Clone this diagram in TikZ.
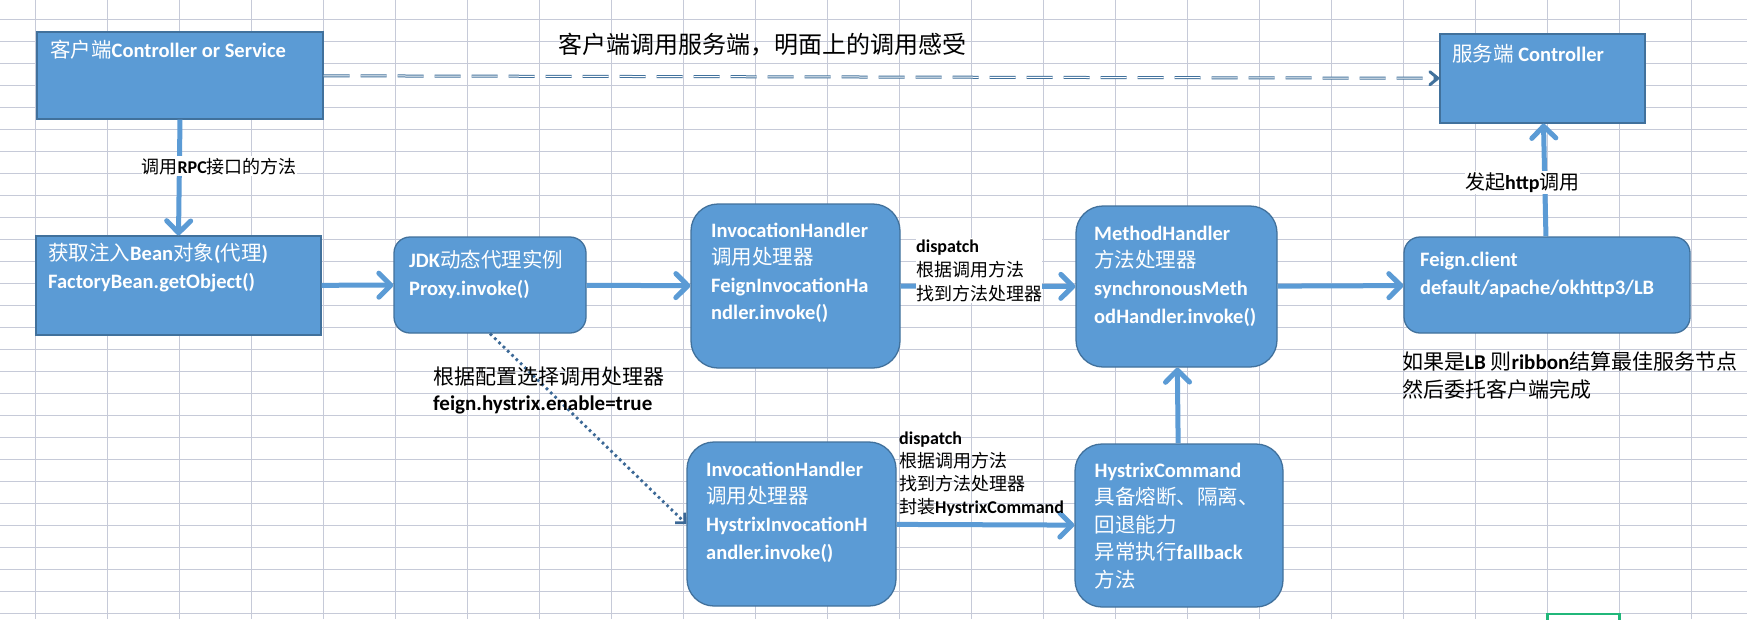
\documentclass[tikz,border=0pt]{standalone}
\usepackage{fontspec}
\setmainfont{Carlito}
\newfontfamily\cjk{Noto Sans CJK SC}
\usepackage{tikz}
\usetikzlibrary{arrows.meta,positioning}

\definecolor{boxfill}{HTML}{5B9BD5}
\definecolor{boxline}{HTML}{41719C}
\definecolor{sheetgrid}{HTML}{C6CAD8}
\definecolor{dotblue}{HTML}{3B6896}
\definecolor{cellgreen}{HTML}{21B77A}

\newcommand{\zh}[1]{{\cjk\mdseries #1}}
\newcommand{\boxfont}{\fontsize{20.5}{27.6}\selectfont\bfseries}

% multi-line texts are placed by the baseline of their last line
\tikzset{
  box/.style={draw=boxline, fill=boxfill, line width=1.3pt, inner sep=0pt},
  rbox/.style={box, rounded corners=#1},
  boxtext/.style={anchor=base west, inner sep=0pt, align=left, text=white, font=\boxfont},
  note/.style={anchor=base west, inner xsep=0pt, inner ysep=1.5pt, align=left},
  flow/.style={draw=boxfill, line width=5pt, -{Straight Barb[length=12pt,width=24pt,round]}},
  seen/.style={draw=boxline, line width=3pt, dash pattern=on 26pt off 11pt,
    -{Straight Barb[length=8pt,width=13pt,round]},
    postaction={draw=white, line width=1pt, -, shorten >=7pt}},
  choice/.style={draw=dotblue, line width=2.8pt, dash pattern=on 2.6pt off 3.4pt,
    -{Straight Barb[length=7pt,width=14pt]}},
}

\begin{document}
\begin{tikzpicture}[x=1pt,y=-1pt]
  \useasboundingbox (0,0) rectangle (1747,619);
  \clip (0,0) rectangle (1747,619);
  \fill[white] (0,0) rectangle (1747,619);
  % sheet grid
  \foreach \gx in {0,...,23}
    \draw[sheetgrid, line width=1.1pt] ({35.3+72*\gx},0) -- ({35.3+72*\gx},619);
  \foreach \gy in {0,...,27}
    \draw[sheetgrid, line width=1.1pt] (0,{19.3+22*\gy}) -- (1747,{19.3+22*\gy});
  \draw[cellgreen, line width=2.6pt] (1547.3,613.8) rectangle (1619.3,640);

  % boxes
  \node (client) [box, minimum width=286, minimum height=87] at (180,75.5) {};
  \node (server) [box, minimum width=205, minimum height=89] at (1542.5,78.5) {};
  \node (bean) [box, minimum width=285, minimum height=99] at (178.5,285.5) {};
  \node (jdk) [rbox=16, minimum width=192, minimum height=96] at (490,285) {};
  \node (feigninv) [rbox=27, minimum width=209, minimum height=164] at (795.5,286) {};
  \node (method) [rbox=27, minimum width=201, minimum height=161] at (1176.5,286.5) {};
  \node (feign) [rbox=16, minimum width=286, minimum height=96] at (1547,285) {};
  \node (hystrixinv) [rbox=27, minimum width=209, minimum height=164] at (791.5,524) {};
  \node (hystrixcmd) [rbox=27, minimum width=208, minimum height=163] at (1179,525.5) {};

  % box texts
  \node (client-t) [boxtext] at (50,57) {\zh{客户端}Controller or Service};
  \node (server-t) [boxtext] at (1452,61) {\zh{服务端} Controller};
  \node (bean-t) [boxtext] at (48,288) {\zh{获取注入}Bean\zh{对象}(\zh{代理})\\FactoryBean.getObject()};
  \node (jdk-t) [boxtext] at (409,295) {JDK\zh{动态代理实例}\\Proxy.invoke()};
  \node (feigninv-t) [boxtext] at (711,319.8) {InvocationHandler\\\zh{调用处理器}\\FeignInvocationHa\\ndler.invoke()};
  \node (method-t) [boxtext] at (1094,323) {MethodHandler\\\zh{方法处理器}\\synchronousMeth\\odHandler.invoke()};
  \node (feign-t) [boxtext] at (1420,294.3) {Feign.client\\default/apache/okhttp3/LB};
  \node (hystrixinv-t) [boxtext] at (706,559) {InvocationHandler\\\zh{调用处理器}\\HystrixInvocationH\\andler.invoke()};
  \node (hystrixcmd-t) [boxtext] at (1094.5,587.5) {HystrixCommand\\\zh{具备熔断、隔离、}\\\zh{回退能力}\\\zh{异常执行}fallback\\\zh{方法}};

  % connectors
  \draw[seen] (client) to (server);
  \draw[flow] (client.south) to (bean.north);
  \draw[flow] (bean) to (jdk);
  \draw[flow] (jdk) to (feigninv);
  \draw[flow] (feigninv) to (method);
  \draw[flow] (method) to (feign);
  \draw[flow] (feign) to (server);
  \draw[flow] (hystrixinv) to (hystrixcmd);
  \draw[flow] (hystrixcmd) to (method);
  \draw[choice] (jdk.south) to (hystrixinv.west);

  % notes
  \node (title) [note, font=\fontsize{24}{28}\selectfont] at (558,53.5) {\zh{客户端调用服务端，明面上的调用感受}};
  \node (rpc) [note, fill=white, font=\fontsize{18}{22}\selectfont\bfseries] at (141.4,173) {\zh{调用}RPC\zh{接口的方法}};
  \node (http) [note, fill=white, font=\fontsize{20}{24}\selectfont\bfseries] at (1465,189) {\zh{发起}http\zh{调用}};
  \node (lb) [note, font=\fontsize{21}{27.5}\selectfont\bfseries] at (1402,397) {\zh{如果是}LB \zh{则}ribbon\zh{结算最佳服务节点}\\\zh{然后委托客户端完成}};
  \node (pick) [note, font=\fontsize{21}{26}\selectfont\bfseries] at (433,410) {\zh{根据配置选择调用处理器}\\feign.hystrix.enable=true};
  \node (dispatch1) [note, fill=white, font=\fontsize{18}{24}\selectfont\bfseries] at (916,300) {dispatch\\\zh{根据调用方法}\\\zh{找到方法处理器}};
  \node (dispatch2) [note, font=\fontsize{18}{23}\selectfont\bfseries] at (899,513) {dispatch\\\zh{根据调用方法}\\\zh{找到方法处理器}\\\zh{封装}HystrixCommand};
\end{tikzpicture}
\end{document}
